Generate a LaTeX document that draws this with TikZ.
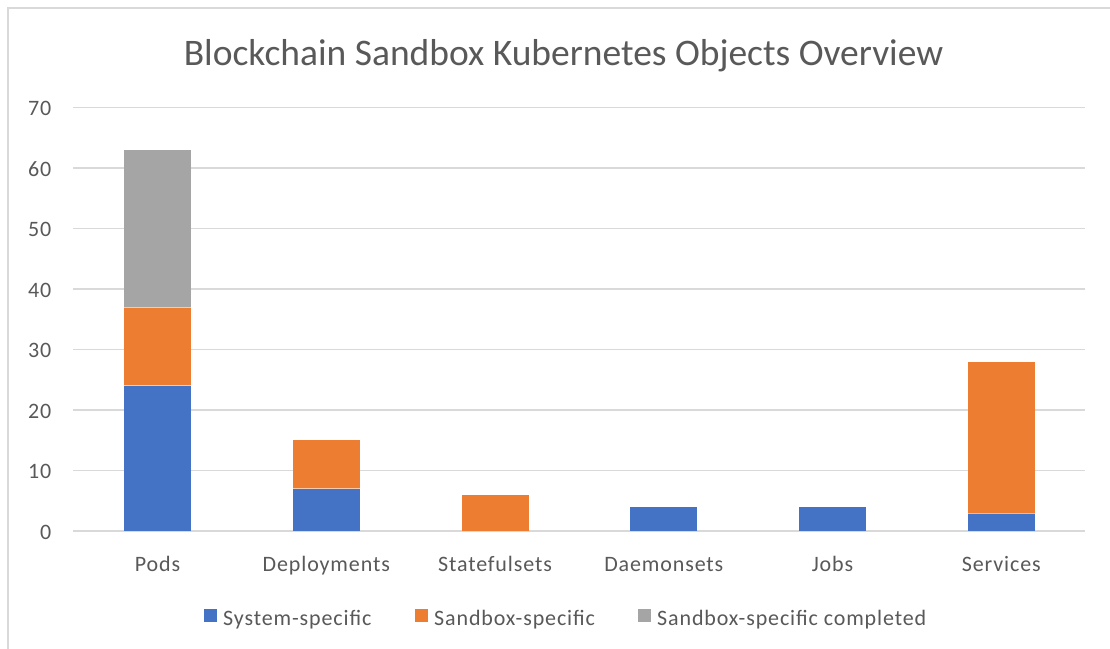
\documentclass[tikz,border=0pt]{standalone}
\usepackage{fontspec}
\setmainfont{Carlito}
\newfontfamily\lsfont[LetterSpace=4]{Carlito}
\definecolor{txt}{HTML}{595959}
\definecolor{gridc}{HTML}{D9D9D9}
\definecolor{sysb}{HTML}{4472C4}
\definecolor{sbo}{HTML}{ED7D31}
\definecolor{sbg}{HTML}{A5A5A5}
\tikzset{
  grid line/.style={draw=gridc, line width=1.5pt},
  tick/.style={text=txt, font=\lsfont\fontsize{22}{26}\selectfont, anchor=base east, inner sep=0pt},
  cat/.style={text=txt, font=\lsfont\fontsize{22}{26}\selectfont, anchor=base, inner sep=0pt},
  leg/.style={text=txt, font=\lsfont\fontsize{22}{26}\selectfont, anchor=base west, inner sep=0pt},
  sep/.style={draw=white, line width=0.8pt, opacity=0.6},
}
\begin{document}
\begin{tikzpicture}[x=1pt,y=-1pt]
\useasboundingbox (0,0) rectangle (1110,648);
\fill[white] (0,0) rectangle (1110,648);
% chart border (cropped at right and bottom)
\draw[gridc, line width=1.5pt] (8,660) -- (8,8) -- (1120,8);
% title
\node[text=txt, font=\fontsize{37.5}{44}\selectfont, anchor=base, inner sep=0pt] (title) at (563.5,65) {Blockchain Sandbox Kubernetes Objects Overview};
% grid and ticks
\foreach \v in {0,10,...,70} {
  \pgfmathsetmacro{\yy}{531-\v*6.05}
  \draw[grid line] (73,\yy) -- (1085,\yy);
  \node[tick] (t\v) at (51.5,\yy+8) {\v};
}
% bars: center, system, sandbox, completed
\foreach \c/\s/\o/\g in {157.5/24/13/26, 326.3/7/8/0, 495/0/6/0, 663.8/4/0/0, 832.5/4/0/0, 1001.3/3/25/0} {
  \pgfmathsetmacro{\ya}{531-\s*6.05}
  \pgfmathsetmacro{\yb}{531-(\s+\o)*6.05}
  \pgfmathsetmacro{\yc}{531-(\s+\o+\g)*6.05}
  \ifdim\s pt>0pt \fill[sysb] (\c-33.5,531) rectangle (\c+33.5,\ya); \fi
  \ifdim\o pt>0pt \fill[sbo] (\c-33.5,\ya) rectangle (\c+33.5,\yb); \fi
  \ifdim\g pt>0pt \fill[sbg] (\c-33.5,\yb) rectangle (\c+33.5,\yc); \fi
}
\draw[sep] (124,385.8) -- (191,385.8);
\draw[sep] (124,307.2) -- (191,307.2);
\draw[sep] (292.8,488.7) -- (359.8,488.7);
\draw[sep] (967.8,512.9) -- (1034.8,512.9);
% category labels
\node[cat] (lpods) at (157.5,571.5) {Pods};
\node[cat] (ldep) at (326.3,571.5) {Deployments};
\node[cat] (lsts) at (495,571.5) {Statefulsets};
\node[cat] (ldms) at (663.8,571.5) {Daemonsets};
\node[cat] (ljobs) at (832.5,571.5) {Jobs};
\node[cat] (lsvc) at (1001.3,571.5) {Services};
% legend
\fill[sysb] (204,609) rectangle (217,622);
\node[leg] (leg1) at (223,625.5) {System-specific};
\fill[sbo] (415,609) rectangle (428,622);
\node[leg] (leg2) at (434,625.5) {Sandbox-specific};
\fill[sbg] (638,609) rectangle (651,622);
\node[leg] (leg3) at (657,625.5) {Sandbox-specific completed};
\end{tikzpicture}
\end{document}
